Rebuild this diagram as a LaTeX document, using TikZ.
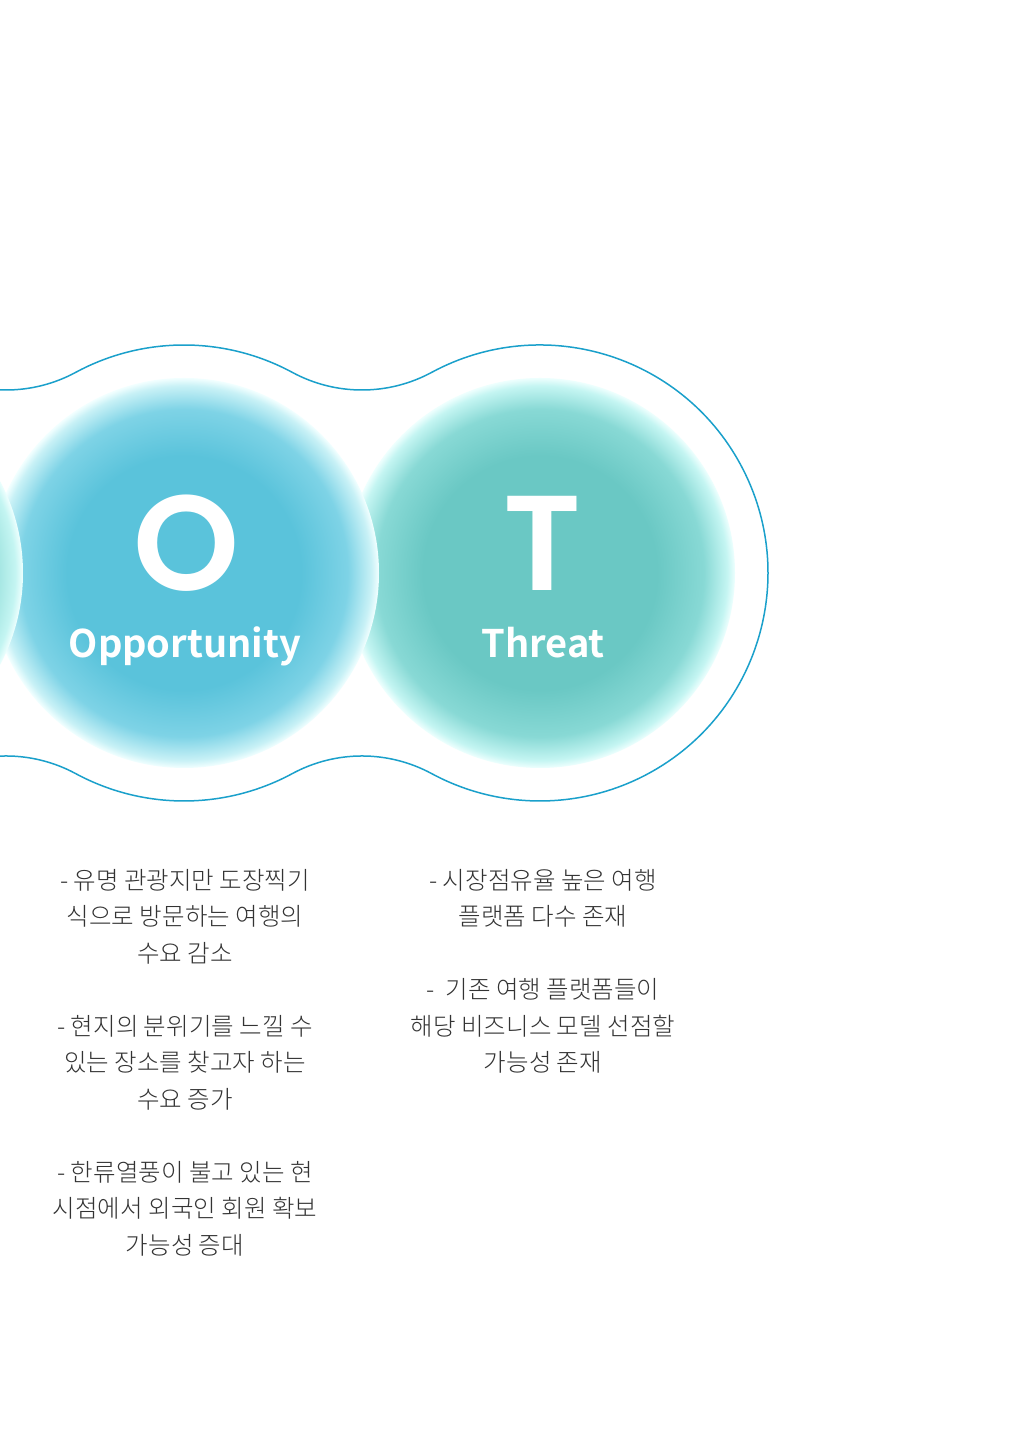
\documentclass[tikz,border=0pt]{standalone}
\usepackage{fontspec}
\IfFontExistsTF{Noto Sans CJK KR Light}{\newfontfamily\kr{Noto Sans CJK KR Light}}{\newfontfamily\kr{Noto Sans CJK KR}}
\IfFontExistsTF{Noto Sans CJK KR Bold}{\newfontfamily\krm{Noto Sans CJK KR Bold}}{\newfontfamily\krm{Noto Sans CJK KR}[FakeBold=2]}
\IfFontExistsTF{Poppins SemiBold}{\newfontfamily\pop{Poppins SemiBold}}{\newfontfamily\pop{Poppins}[FakeBold=3]}
\definecolor{outl}{HTML}{1AA0CB}
\definecolor{bodytext}{HTML}{333333}
\definecolor{ocen}{HTML}{5AC3DB}
\definecolor{omid}{HTML}{7ED3E6}
\definecolor{orim}{HTML}{C8F1F6}
\definecolor{orim2}{HTML}{F2FFFF}
\definecolor{tcen}{HTML}{6AC8C4}
\definecolor{tmid}{HTML}{88D9D5}
\definecolor{trim}{HTML}{C4F5F2}
\definecolor{trim2}{HTML}{EEFFFE}
\definecolor{wcen}{HTML}{7FD3CF}
\definecolor{wmid}{HTML}{98E0DC}
\pgfdeclareradialshading{oglow}{\pgfpoint{0bp}{0bp}}{color(0bp)=(ocen); color(15bp)=(ocen); color(21bp)=(omid); color(24bp)=(orim); color(25bp)=(orim2); color(50bp)=(orim2)}
\pgfdeclareradialshading{tglow}{\pgfpoint{0bp}{0bp}}{color(0bp)=(tcen); color(15bp)=(tcen); color(21bp)=(tmid); color(24bp)=(trim); color(25bp)=(trim2); color(50bp)=(trim2)}
\pgfdeclareradialshading{wglow}{\pgfpoint{0bp}{0bp}}{color(0bp)=(wcen); color(15bp)=(wcen); color(21bp)=(wmid); color(24bp)=(trim); color(25bp)=(trim2); color(50bp)=(trim2)}
\begin{document}
\begin{tikzpicture}[x=1pt,y=1pt,
  bubble/.style={circle, inner sep=0pt, minimum size=390pt, draw=none},
  letter/.style={anchor=base, text=white, font=\pop\fontsize{135}{140}\selectfont, inner sep=0pt, text depth=0pt, text height=97pt},
  namelbl/.style={anchor=base, text=white, font=\krm\fontsize{38}{44}\selectfont, inner sep=0pt, text height=29pt},
  bodytxt/.style={anchor=north, align=center, text=bodytext, inner sep=0pt, font=\kr\fontsize{24.5}{36.5}\selectfont},
  outline/.style={draw=outl, line width=1.5pt}]
\useasboundingbox (0,0) rectangle (1028,1443);
\clip (0,0) rectangle (1028,1443);
\fill[white] (0,0) rectangle (1028,1443);
% bubbles
\node[bubble, shading=tglow] (tcirc) at (540,870) {};
\node[bubble, shading=oglow] (ocirc) at (184,870) {};
\node[bubble, shading=wglow] (wcirc) at (-172,870) {};
% outline
\draw[outline] (-172,1098)
  arc[start angle=90, end angle=61.62, radius=228]
  arc[start angle=-118.38, end angle=-61.62, radius=146.5]
  arc[start angle=118.38, end angle=61.62, radius=228]
  arc[start angle=-118.38, end angle=-61.62, radius=146.5]
  arc[start angle=118.38, end angle=-118.38, radius=228]
  arc[start angle=61.62, end angle=118.38, radius=146.5]
  arc[start angle=-61.62, end angle=-118.38, radius=228]
  arc[start angle=61.62, end angle=118.38, radius=146.5]
  arc[start angle=-61.62, end angle=-90, radius=228];
% letters
\node[letter] (oletter) at (186,852) {O};
\node[letter] (tletter) at (542,852) {T};
\node[namelbl] (olabel) at (185,785) {Opportunity};
\node[namelbl] (tlabel) at (543,785) {Threat};
% texts
\node[bodytxt] (otext) at (185,574) {- 유명 관광지만 도장찍기\\식으로 방문하는 여행의\\수요 감소\\[36.5pt]- 현지의 분위기를 느낄 수\\있는 장소를 찾고자 하는\\수요 증가\\[36.5pt]- 한류열풍이 불고 있는 현\\시점에서 외국인 회원 확보\\가능성 증대};
\node[bodytxt] (ttext) at (543,574) {- 시장점유율 높은 여행\\플랫폼 다수 존재\\[36.5pt]-~~기존 여행 플랫폼들이\\해당 비즈니스 모델 선점할\\가능성 존재};
\end{tikzpicture}
\end{document}
